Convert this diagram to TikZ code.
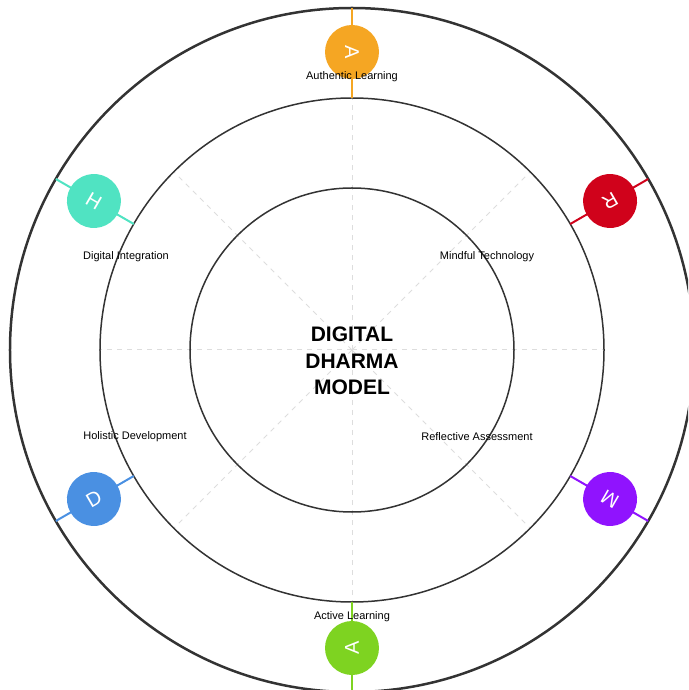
\documentclass[tikz,border=0pt]{standalone}
\usepackage{fontspec}
\setmainfont{Liberation Sans}
\usepackage{tikz}

\definecolor{ringgray}{HTML}{333333}
\definecolor{spokegray}{HTML}{DDDDDD}
\definecolor{cauth}{HTML}{F5A623}
\definecolor{cmind}{HTML}{D0021B}
\definecolor{crefl}{HTML}{9013FE}
\definecolor{cacti}{HTML}{7ED321}
\definecolor{choli}{HTML}{4A90E2}
\definecolor{cdigi}{HTML}{50E3C2}

\begin{document}
\begin{tikzpicture}[x=1pt,y=1pt,
    ring/.style={draw=ringgray, line width=1.5pt},
    spoke/.style={draw=spokegray, line width=1pt, dash pattern=on 5pt off 5pt},
    marker/.style={circle, fill=#1, minimum size=54pt, inner sep=0pt, text=white,
                   font=\fontsize{20}{20}\selectfont},
    link/.style={draw=#1, line width=2pt},
    label/.style={font=\fontsize{11}{13}\selectfont, text=black}]
    \useasboundingbox (-352,-340) rectangle (336,350);
    \clip (-352,-340) rectangle (336,350);
    \coordinate (center) at (0,0);
    % spokes
    \foreach \a in {0,45,...,315}
        \draw[spoke] (center) -- (\a:252);
    % rings
    \draw[ring, line width=2.5pt] (center) circle (342);
    \draw[ring] (center) circle (252);
    \draw[ring] (center) circle (162);
    % markers on the rings
    \foreach \a/\c/\t [count=\i] in {90/cauth/A, 30/cmind/R, -30/crefl/M,
                                      -90/cacti/A, -150/choli/D, 150/cdigi/H} {
        \coordinate (in\i) at (\a:252);
        \coordinate (out\i) at (\a:342);
        \draw[link=\c] (in\i) -- (out\i);
        \pgfmathsetmacro{\r}{\a-180}
        \node[marker=\c, rotate=\r] (m\i) at (\a:298) {\t};
    }
    % labels
    \node[label] (lauth) at (0,273) {Authentic Learning};
    \node[label] (lmind) at (135,93) {Mindful Technology};
    \node[label] (lrefl) at (125,-87) {Reflective Assessment};
    \node[label] (lacti) at (0,-267) {Active Learning};
    \node[label] (lholi) at (-217,-87) {Holistic Development};
    \node[label] (ldigi) at (-226,93) {Digital Integration};
    % title
    \node[align=center, font=\fontsize{21}{26.5}\selectfont\bfseries] (title) at (0,-11)
        {DIGITAL\\DHARMA\\MODEL};
\end{tikzpicture}
\end{document}
